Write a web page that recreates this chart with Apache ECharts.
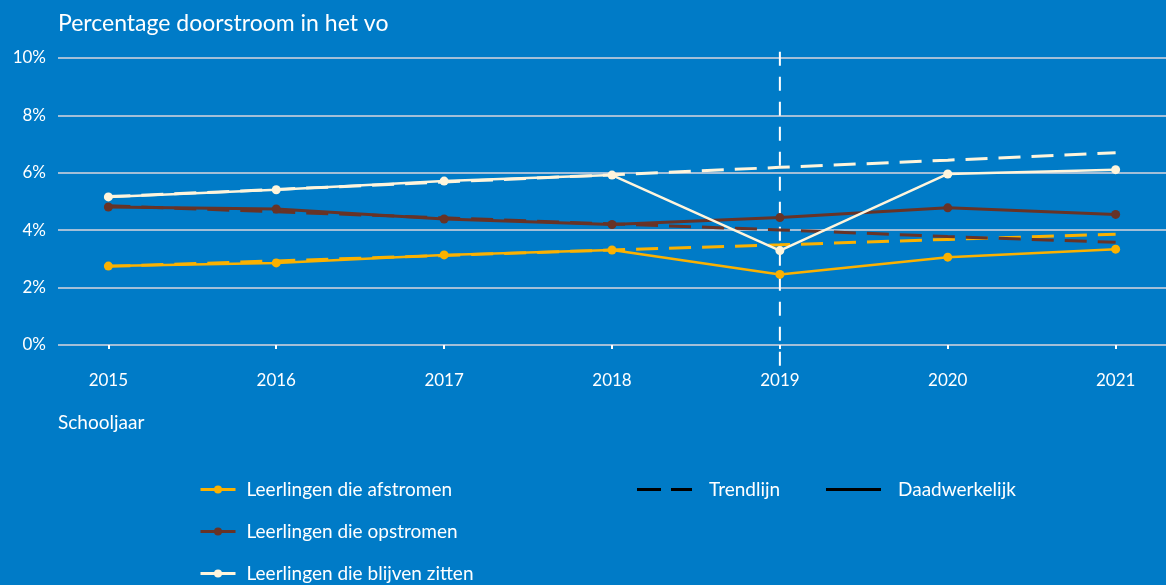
<!DOCTYPE html>
<html>
<head>
<meta charset="utf-8">
<script src="https://cdn.jsdelivr.net/npm/echarts@6/dist/echarts.min.js"></script>
<style>
html,body{margin:0;padding:0;background:#007bc7;}
#chart{width:1166px;height:585px;}
</style>
</head>
<body>
<div id="chart"></div>
<script>
const years = [2015, 2016, 2017, 2018, 2019, 2020, 2021];
const yTicks = [0, 2, 4, 6, 8, 10];
const afstromen = [2.75, 2.86, 3.14, 3.31, 2.46, 3.06, 3.34];
const afstromenTrend = [2.74, 2.93, 3.12, 3.31, 3.49, 3.68, 3.86];
const opstromen = [4.81, 4.74, 4.39, 4.20, 4.44, 4.78, 4.55];
const opstromenTrend = [4.85, 4.64, 4.43, 4.22, 4.01, 3.78, 3.58];
const blijven = [5.16, 5.41, 5.71, 5.92, 3.29, 5.96, 6.11];
const blijvenTrend = [5.17, 5.42, 5.68, 5.93, 6.19, 6.44, 6.70];
const refYear = 2019;
const refRange = [-0.72, 10.52];

const names = ['Leerlingen die afstromen', 'Leerlingen die opstromen', 'Leerlingen die blijven zitten'];
const colors = ['#fbb100', '#673327', '#fff5dc'];
const widths = [2.5, 3, 2.5];
const FONT = 'Lato';

const pairs = arr => years.map((y, i) => [y, arr[i]]);

const series = [
  {
    name: 'ref', type: 'line', clip: false, silent: true, symbol: 'none',
    data: refRange.map(v => [refYear, v]),
    lineStyle: { color: '#ffffff', width: 2, type: [14, 11] }, z: 1
  }
];
[afstromenTrend, opstromenTrend, blijvenTrend].forEach((arr, i) => {
  series.push({
    name: names[i] + ' trend', type: 'line', symbol: 'none', data: pairs(arr),
    lineStyle: { color: colors[i], width: 3, type: [22, 11] }, z: 2
  });
});
[afstromen, opstromen, blijven].forEach((arr, i) => {
  series.push({
    name: names[i], type: 'line', symbol: 'circle', symbolSize: 9, data: pairs(arr),
    itemStyle: { color: colors[i] },
    lineStyle: { color: colors[i], width: widths[i] }, z: 3
  });
});
series.push({ name: 'Trendlijn', type: 'line', data: [], symbol: 'none',
  itemStyle: { color: '#000' }, lineStyle: { color: '#000', width: 3 } });
series.push({ name: 'Daadwerkelijk', type: 'line', data: [], symbol: 'none',
  itemStyle: { color: '#000' }, lineStyle: { color: '#000', width: 3 } });

const legendText = { color: '#fff', fontFamily: FONT, fontSize: 19, padding: [0, 0, 0, 6] };
const rowLegends = names.map((n, i) => ({
  data: [n], orient: 'horizontal', left: 199, top: 480 + i * 42, padding: 0,
  itemWidth: 35, itemHeight: 10, textStyle: legendText,
  lineStyle: { width: 3 }
}));

const chart = echarts.init(document.getElementById('chart'));
chart.setOption({
  backgroundColor: '#007bc7',
  animation: false,
  title: [
    { text: 'Percentage doorstroom in het vo', left: 53, top: 7,
      textStyle: { color: '#fff', fontFamily: FONT, fontWeight: 'normal', fontSize: 23 } },
    { text: 'Schooljaar', left: 53, top: 408,
      textStyle: { color: '#fff', fontFamily: FONT, fontWeight: 'normal', fontSize: 19 } }
  ],
  legend: rowLegends.concat([
    { data: [{ name: 'Trendlijn', icon: 'path://M0,0H24V3H0Z M34,0H55V3H34Z' }],
      left: 637, top: 480, padding: 0, itemWidth: 55, itemHeight: 3,
      textStyle: Object.assign({}, legendText, { padding: [0, 0, 0, 12] }) },
    { data: [{ name: 'Daadwerkelijk', icon: 'path://M0,0H55V3H0Z' }],
      left: 826, top: 480, padding: 0, itemWidth: 55, itemHeight: 3,
      textStyle: Object.assign({}, legendText, { padding: [0, 0, 0, 12] }) }
  ]),
  grid: { left: 58, right: 0, top: 58, bottom: 240, containLabel: false },
  xAxis: {
    type: 'value', min: 2014.7, max: 2021.3, offset: 16,
    axisLine: { show: false },
    splitLine: { show: false },
    axisTick: { show: true, customValues: years, length: 4, lineStyle: { color: '#fff', width: 2 } },
    axisLabel: { customValues: years, color: '#fff', fontFamily: FONT, fontSize: 17, margin: 11,
      formatter: v => String(v) }
  },
  yAxis: {
    type: 'value', min: 0, max: 10, interval: 2,
    axisLine: { show: false }, axisTick: { show: false },
    splitLine: { lineStyle: { color: '#a3bfd8', width: 2 } },
    axisLabel: { color: '#fff', fontFamily: FONT, fontSize: 17, margin: 12,
      customValues: yTicks, formatter: v => v + '%' }
  },
  series: series
});
</script>
</body>
</html>
